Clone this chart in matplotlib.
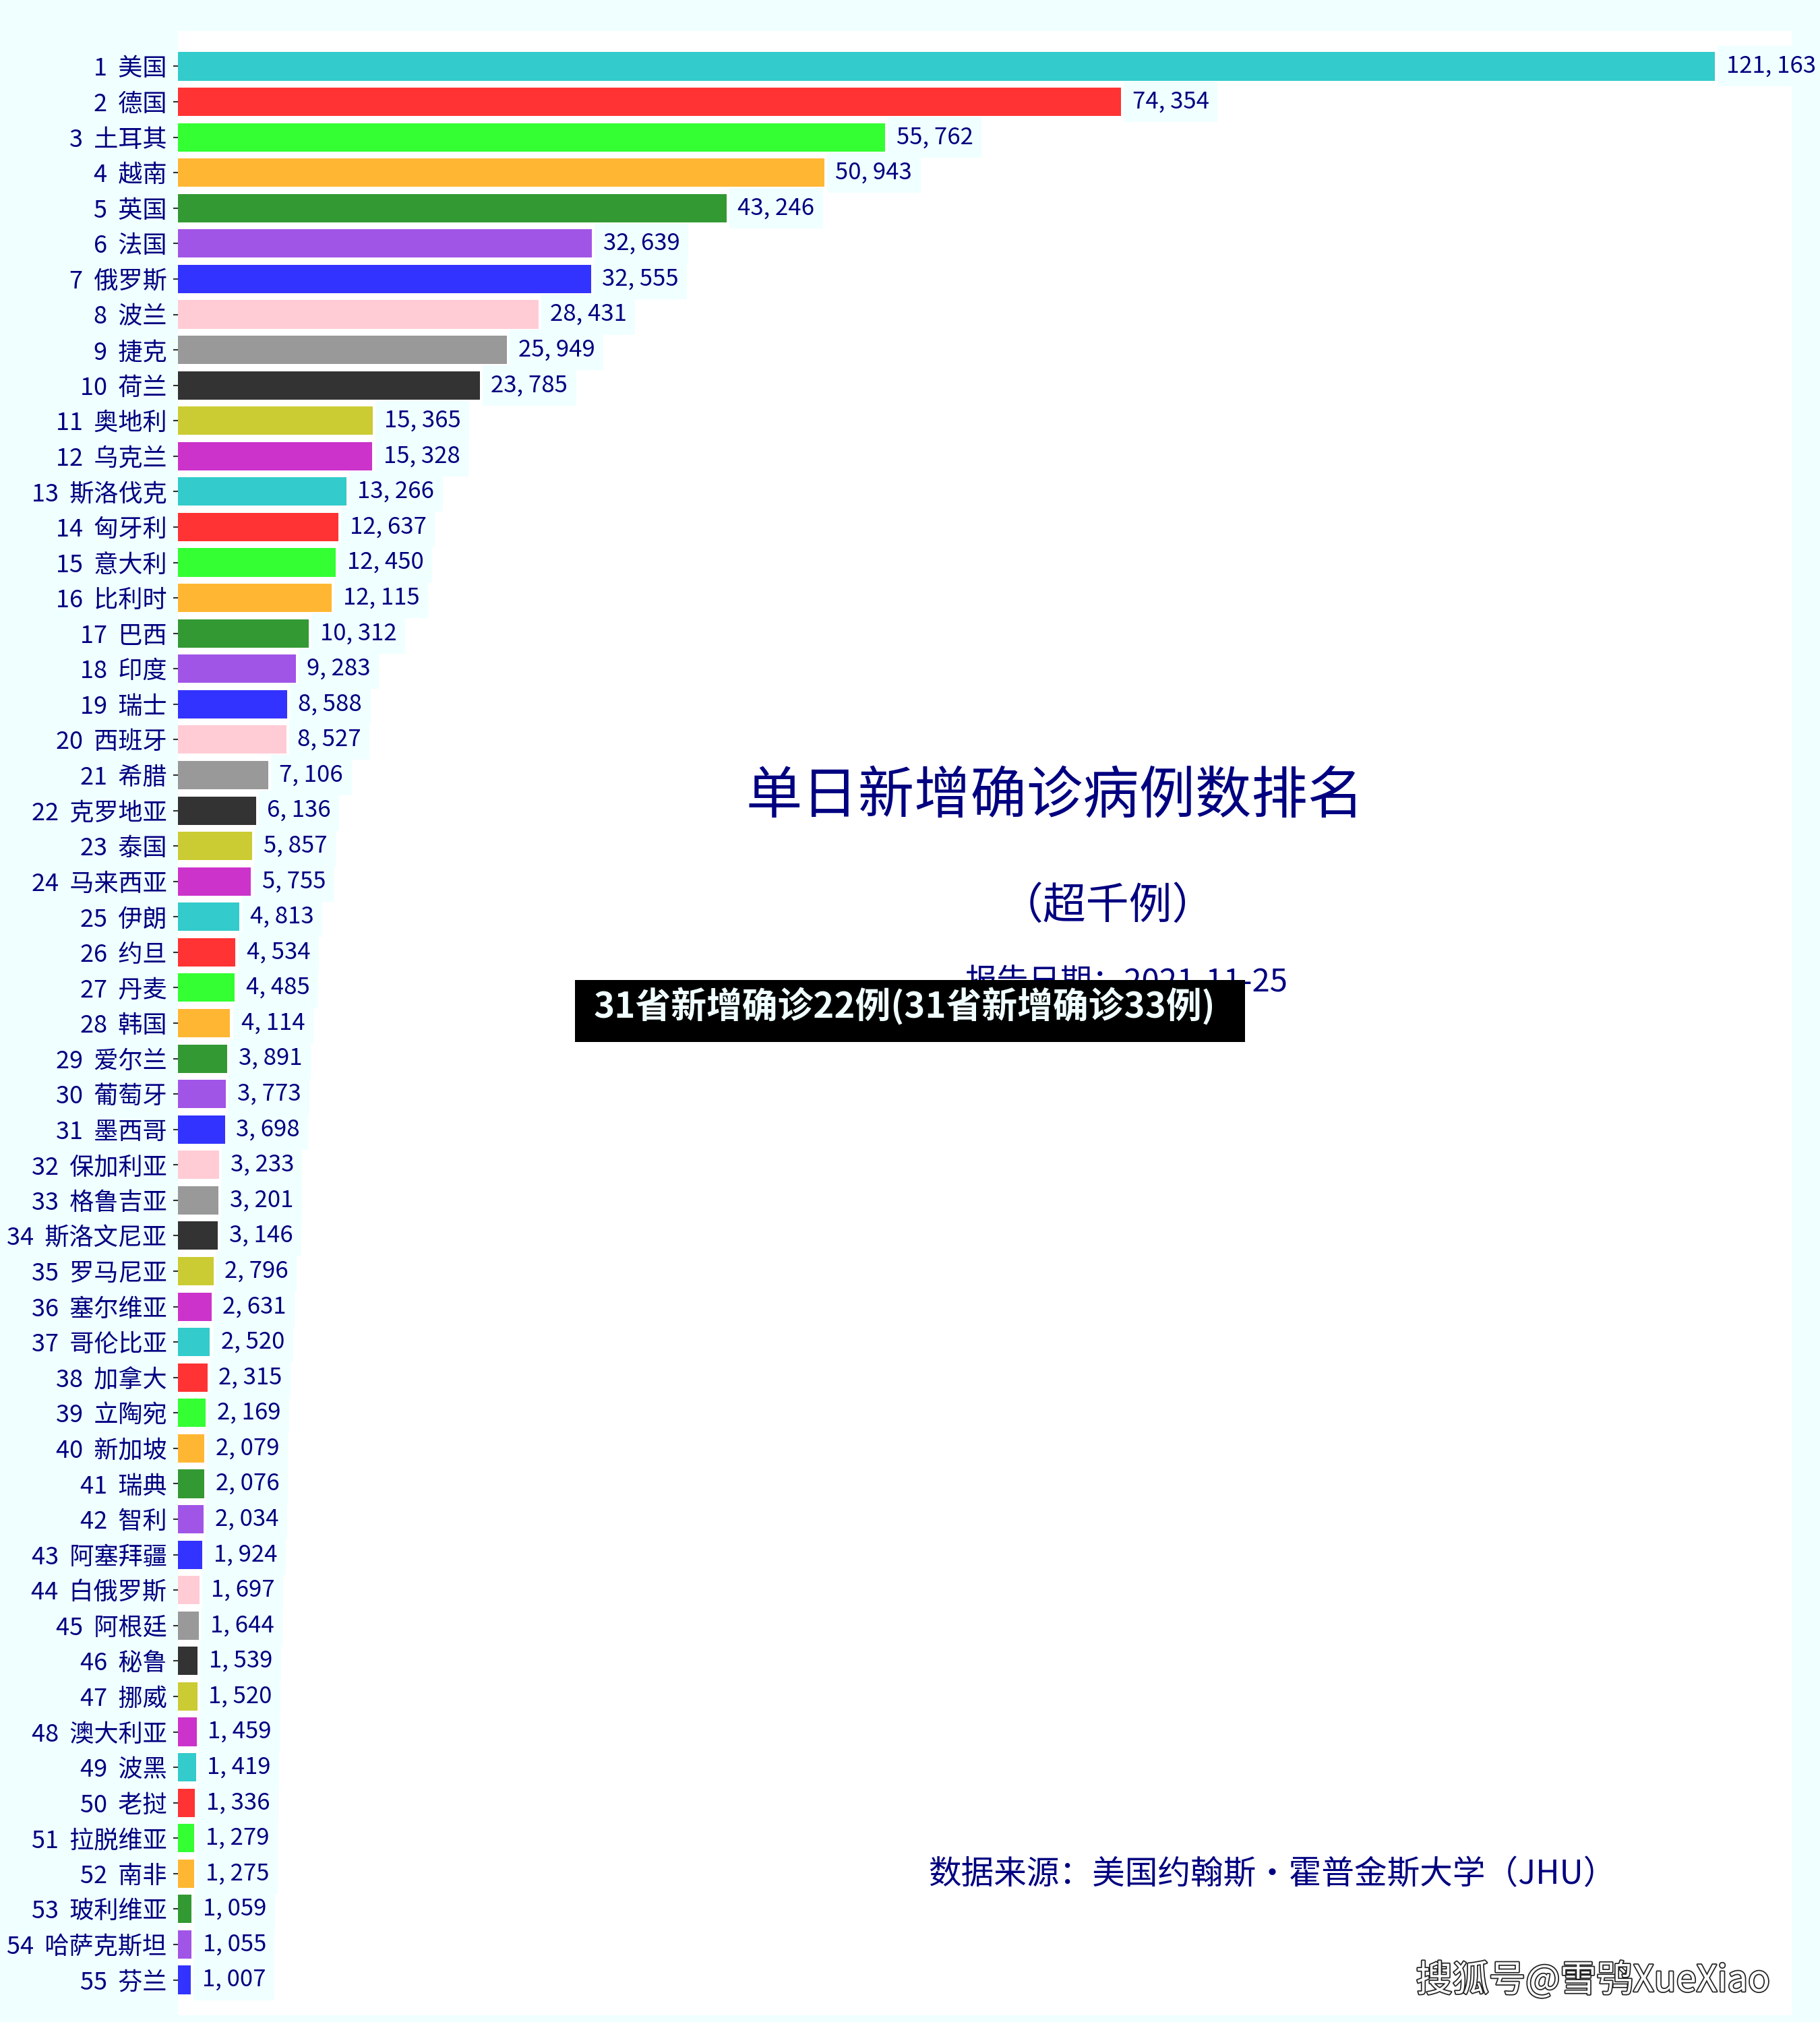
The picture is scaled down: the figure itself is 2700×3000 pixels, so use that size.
import matplotlib
matplotlib.use("Agg")
import matplotlib.pyplot as plt
import matplotlib.patheffects as pe
from matplotlib.patches import Rectangle

plt.rcParams["font.family"] = ["Noto Sans CJK SC", "DejaVu Sans"]

countries = [
    "美国", "德国", "土耳其", "越南", "英国", "法国", "俄罗斯", "波兰", "捷克", "荷兰",
    "奥地利", "乌克兰", "斯洛伐克", "匈牙利", "意大利", "比利时", "巴西", "印度", "瑞士", "西班牙",
    "希腊", "克罗地亚", "泰国", "马来西亚", "伊朗", "约旦", "丹麦", "韩国", "爱尔兰", "葡萄牙",
    "墨西哥", "保加利亚", "格鲁吉亚", "斯洛文尼亚", "罗马尼亚", "塞尔维亚", "哥伦比亚", "加拿大", "立陶宛", "新加坡",
    "瑞典", "智利", "阿塞拜疆", "白俄罗斯", "阿根廷", "秘鲁", "挪威", "澳大利亚", "波黑", "老挝",
    "拉脱维亚", "南非", "玻利维亚", "哈萨克斯坦", "芬兰",
]
new_cases = [
    121163, 74354, 55762, 50943, 43246, 32639, 32555, 28431, 25949, 23785,
    15365, 15328, 13266, 12637, 12450, 12115, 10312, 9283, 8588, 8527,
    7106, 6136, 5857, 5755, 4813, 4534, 4485, 4114, 3891, 3773,
    3698, 3233, 3201, 3146, 2796, 2631, 2520, 2315, 2169, 2079,
    2076, 2034, 1924, 1697, 1644, 1539, 1520, 1459, 1419, 1336,
    1279, 1275, 1059, 1055, 1007,
]

title = "单日新增确诊病例数排名"
subtitle = "（超千例）"
report_date = "报告日期：2021-11-25"
source = "数据来源：美国约翰斯・霍普金斯大学（JHU）"
banner = "31省新增确诊22例(31省新增确诊33例)"
watermark = "搜狐号@雪鸮XueXiao"

palette = ["c", "r", "lime", "orange", "g", "blueviolet", "b", "pink", "gray", "k", "y", "m"]
NAVY = "#000080"
BG = "azure"

fig = plt.figure(figsize=(27, 30), dpi=100, facecolor=BG)
ax = fig.add_axes([0.0978, 0.0033, 0.8866, 0.9814])
ax.set_facecolor("white")

ranks = list(range(len(countries)))
colors = [palette[i % len(palette)] for i in ranks]
ax.barh(ranks, new_cases, height=0.8, color=colors, alpha=0.8)

ax.set_yticks(ranks)
ax.set_yticklabels([f"{i + 1}  {name}" for i, name in enumerate(countries)],
                   fontsize=26, color=NAVY)
ax.tick_params(axis="y", length=5, width=1.5, color="#333333", pad=7)
ax.set_ylim(len(countries), -1)
ax.set_xlim(0, 127220)
ax.xaxis.set_visible(False)
for spine in ax.spines.values():
    spine.set_visible(False)

# value labels sit in small azure boxes right of each bar
for i, value in enumerate(new_cases):
    ax.annotate(
        f"{value:,}".replace(",", ", "),
        xy=(value, i),
        xytext=(12, 0),
        textcoords="offset points",
        ha="left",
        va="center",
        fontsize=25,
        color=NAVY,
        annotation_clip=False,
        bbox=dict(facecolor=BG, edgecolor="none", pad=9),
    )

fig.text(0.5796, 0.6063, title, fontsize=60, color=NAVY, ha="center", va="center")
fig.text(0.6085, 0.5517, subtitle, fontsize=46, color=NAVY, ha="center", va="center")
fig.text(0.530, 0.514, report_date, fontsize=34, color=NAVY, ha="left", va="center", zorder=3)
fig.text(0.510, 0.0727, source, fontsize=35, color=NAVY, ha="left", va="center")

# black news banner laid over the date line
fig.patches.append(Rectangle((0.316, 0.4847), 0.368, 0.0307, transform=fig.transFigure,
                             facecolor="black", edgecolor="none", zorder=10))
fig.text(0.326, 0.5023, banner, fontsize=38, color=BG, fontweight="bold",
         ha="left", va="center", zorder=11)

fig.text(0.778, 0.0203, watermark, fontsize=39, color="white", ha="left", va="center",
         path_effects=[pe.withStroke(linewidth=2.5, foreground="#222222")])

fig.savefig("out.png", dpi=100, facecolor=BG)
